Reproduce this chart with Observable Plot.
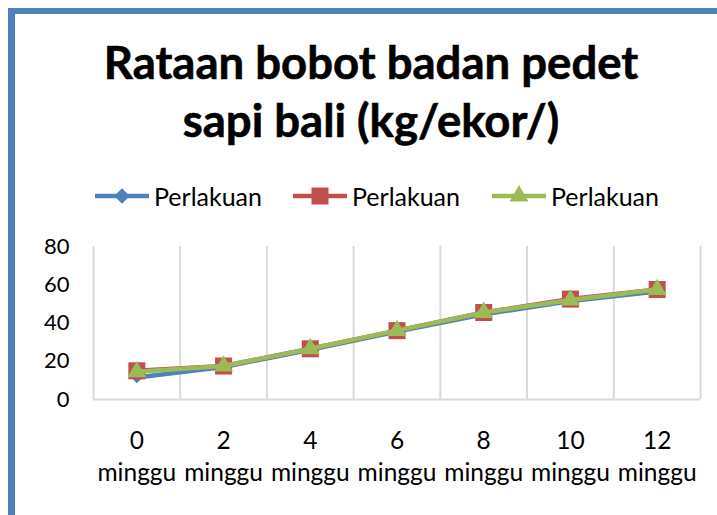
<!DOCTYPE html>
<html><head><meta charset="utf-8">
<script src="https://cdn.jsdelivr.net/npm/d3@7"></script>
<script src="https://cdn.jsdelivr.net/npm/@observablehq/plot@0.6"></script>
<style>
body{margin:0;background:#fff;}
#wrap{position:relative;width:717px;height:515px;overflow:hidden;background:#fff;font-family:Lato,"Open Sans",sans-serif;color:#000;}
#frame{position:absolute;left:8px;top:8px;width:800px;height:600px;border-left:7px solid #4F81BD;border-top:6px solid #4F81BD;}
#title{position:absolute;left:0;width:742px;top:33px;text-align:center;font-weight:bold;font-size:45.5px;line-height:58px;-webkit-text-stroke:0.6px #000;}
.leg{position:absolute;top:182px;height:28px;display:flex;align-items:center;font-size:25px;}
.leg svg{margin-right:5px;}
#chart{position:absolute;left:0;top:230px;}
</style></head>
<body>
<div id="wrap">
  <div id="frame"></div>
  <div id="title">Rataan bobot badan pedet<br>sapi bali (kg/ekor/)</div>
  <div id="legend"></div>
  <div id="chart"></div>
</div>
<script>
const weeks = [0, 2, 4, 6, 8, 10, 12];
const weekLabel = "minggu";
const seriesNames = ["Perlakuan", "Perlakuan", "Perlakuan"];
const seriesColors = ["#4F81BD", "#C0504D", "#9BBB59"];
const seriesSymbols = ["diamond2", "square", "triangle"];
const seriesR = [5.2, 9.6, 7];
const blueValues = [11.5, 17, 26, 35.5, 44.5, 51.5, 56.5];
const redValues = [15, 17.5, 26.5, 36, 45.5, 52.5, 57.5];
const greenValues = [14.5, 17.5, 26.5, 36, 45.5, 52, 57.5];
const yTicks = [0, 20, 40, 60, 80];
const legendLefts = [95, 293, 492];

const allValues = [blueValues, redValues, greenValues];
const step = weeks[1] - weeks[0];
const bounds = weeks.map(w => w - step / 2).concat([weeks[weeks.length - 1] + step / 2]);

const marks = [
  Plot.ruleX(bounds, {stroke: "#d9d9d9", strokeWidth: 2}),
  Plot.ruleY([0], {stroke: "#d9d9d9", strokeWidth: 2}),
  Plot.axisY({ticks: yTicks, tickSize: 0, tickPadding: 24, fontSize: 22, fill: "#000", label: null}),
  Plot.axisX({ticks: weeks, tickSize: 0, tickPadding: 27, fontSize: 24.5, fill: "#000", lineHeight: 1.3, label: null,
    tickFormat: d => `${d}\n${weekLabel}`})
];
allValues.forEach((vals, i) => {
  const rows = weeks.map((w, j) => ({week: w, value: vals[j]}));
  marks.push(Plot.line(rows, {x: "week", y: "value", stroke: seriesColors[i], strokeWidth: 4.5}));
  marks.push(Plot.dot(rows, {x: "week", y: "value", symbol: seriesSymbols[i], r: seriesR[i], fill: seriesColors[i], stroke: "none"}));
});

const chart = Plot.plot({
  width: 717, height: 285,
  marginLeft: 93, marginRight: 17, marginTop: 16, marginBottom: 116,
  style: {fontFamily: "Lato, 'Open Sans', sans-serif", background: "transparent", overflow: "visible"},
  x: {type: "linear", domain: [bounds[0], bounds[bounds.length - 1]], axis: null},
  y: {domain: [yTicks[0], yTicks[yTicks.length - 1]], axis: null},
  marks
});
document.getElementById("chart").appendChild(chart);

const legend = d3.select("#legend");
seriesNames.forEach((name, i) => {
  const item = legend.append("div").attr("class", "leg").style("left", legendLefts[i] + "px");
  const svg = item.append("svg").attr("width", 54).attr("height", 28);
  svg.append("line").attr("x1", 0).attr("x2", 54).attr("y1", 14).attr("y2", 14)
    .attr("stroke", seriesColors[i]).attr("stroke-width", 4.5);
  const symMap = {diamond2: d3.symbolDiamond2, square: d3.symbolSquare, triangle: d3.symbolTriangle};
  const r = seriesSymbols[i] === "diamond2" ? seriesR[i] * 1.35 : seriesR[i];
  svg.append("path").attr("transform", "translate(27,14)")
    .attr("d", d3.symbol(symMap[seriesSymbols[i]], Math.PI * r * r)())
    .attr("fill", seriesColors[i]);
  item.append("span").text(name);
});
</script>
</body></html>
